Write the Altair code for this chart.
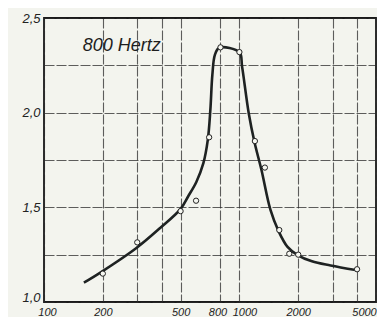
import altair as alt
import pandas as pd

# smooth hand-drawn curve
curve_freq = [160, 196, 296, 393, 498, 548, 602, 654, 689, 710, 727, 749, 789, 1000,
              1032, 1116, 1194, 1297, 1442, 1585, 1763, 1984, 2350, 2929, 3935]
curve_val = [1.102, 1.158, 1.284, 1.391, 1.489, 1.560, 1.634, 1.733, 1.856, 2.014, 2.199,
             2.305, 2.343, 2.319, 2.243, 1.997, 1.845, 1.697, 1.486, 1.375, 1.291, 1.248,
             1.215, 1.193, 1.169]

# measured points (open circles)
point_freq = [200, 300, 500, 600, 700, 800, 1000, 1200, 1350, 1600, 1800, 2000, 4000]
point_val = [1.15, 1.315, 1.48, 1.535, 1.87, 2.345, 2.32, 1.85, 1.71, 1.38, 1.255, 1.25, 1.173]

x_grid = [100, 200, 300, 400, 500, 800, 1000, 2000, 3000, 4000, 5000]
x_labels = [100, 200, 500, 800, 1000, 2000, 5000]
y_grid = [1.0, 1.25, 1.5, 1.75, 2.0, 2.25, 2.5]

note_text = ["800 Hertz"]
note_freq = [158]
note_val = [2.35]

curve_df = pd.DataFrame({"f": curve_freq, "v": curve_val})
point_df = pd.DataFrame({"f": point_freq, "v": point_val})
note_df = pd.DataFrame({"f": note_freq, "v": note_val, "t": note_text})

x_scale = alt.Scale(type="log", domain=[100, 5000], nice=False)
y_scale = alt.Scale(domain=[1.0, 2.5], nice=False, zero=False)

lbl_expr = "indexof([" + ",".join(str(v) for v in x_labels) + "], datum.value) >= 0 ? '' + datum.value : ''"

x_axis = alt.Axis(values=x_grid, labelExpr=lbl_expr, title=None, ticks=False, domain=False,
                  labelFontSize=11, labelFontStyle="italic", labelPadding=4,
                  labelColor="#222", grid=True, labelOverlap=False, labelFlush=False,
                  labelOffset={"condition": [
                      {"test": "datum.value == 100", "value": 3},
                      {"test": "datum.value == 800", "value": -3},
                      {"test": "datum.value == 1000", "value": 5},
                      {"test": "datum.value == 5000", "value": -12}], "value": 0})
y_axis = alt.Axis(values=y_grid,
                  labelExpr="(datum.value*2) % 1 == 0 ? replace(format(datum.value, '.1f'), '.', ',') : ''",
                  title=None, ticks=False, domain=False, labelFontSize=13,
                  labelFontStyle="italic", labelPadding=4, labelColor="#222", grid=True,
                  labelOverlap=False, labelFlush=False,
                  labelOffset={"condition": {"test": "datum.value == 1", "value": -5}, "value": 0})

line = alt.Chart(curve_df).mark_line(color="#1e2222", strokeWidth=2.6, interpolate="catmull-rom").encode(
    x=alt.X("f:Q", scale=x_scale, axis=x_axis),
    y=alt.Y("v:Q", scale=y_scale, axis=y_axis),
)

pts = alt.Chart(point_df).mark_point(shape="circle", filled=True, fill="#f6f7f1",
                                     stroke="#222", strokeWidth=1, size=28, opacity=1).encode(
    x=alt.X("f:Q", scale=x_scale),
    y=alt.Y("v:Q", scale=y_scale),
)

note = alt.Chart(note_df).mark_text(align="left", baseline="middle", fontSize=18,
                                    fontStyle="italic", font="Liberation Sans",
                                    color="#1e1e1e").encode(
    x=alt.X("f:Q", scale=x_scale),
    y=alt.Y("v:Q", scale=y_scale),
    text="t:N",
)

chart = (line + pts + note).properties(
    width=332, height=284,
    autosize=alt.AutoSizeParams(type="none"),
    padding={"left": 36, "top": 10, "right": 1, "bottom": 15},
    background="#f3f4ee",
).configure_view(
    stroke="#1a1a1a", strokeWidth=1.8
).configure_axis(
    gridColor="#2a2a2a", gridOpacity=0.75, gridWidth=1.1, gridDash=[10, 2],
    labelFont="Liberation Sans",
)

chart.save("out.html", embed_options={"renderer": "svg", "actions": False})
